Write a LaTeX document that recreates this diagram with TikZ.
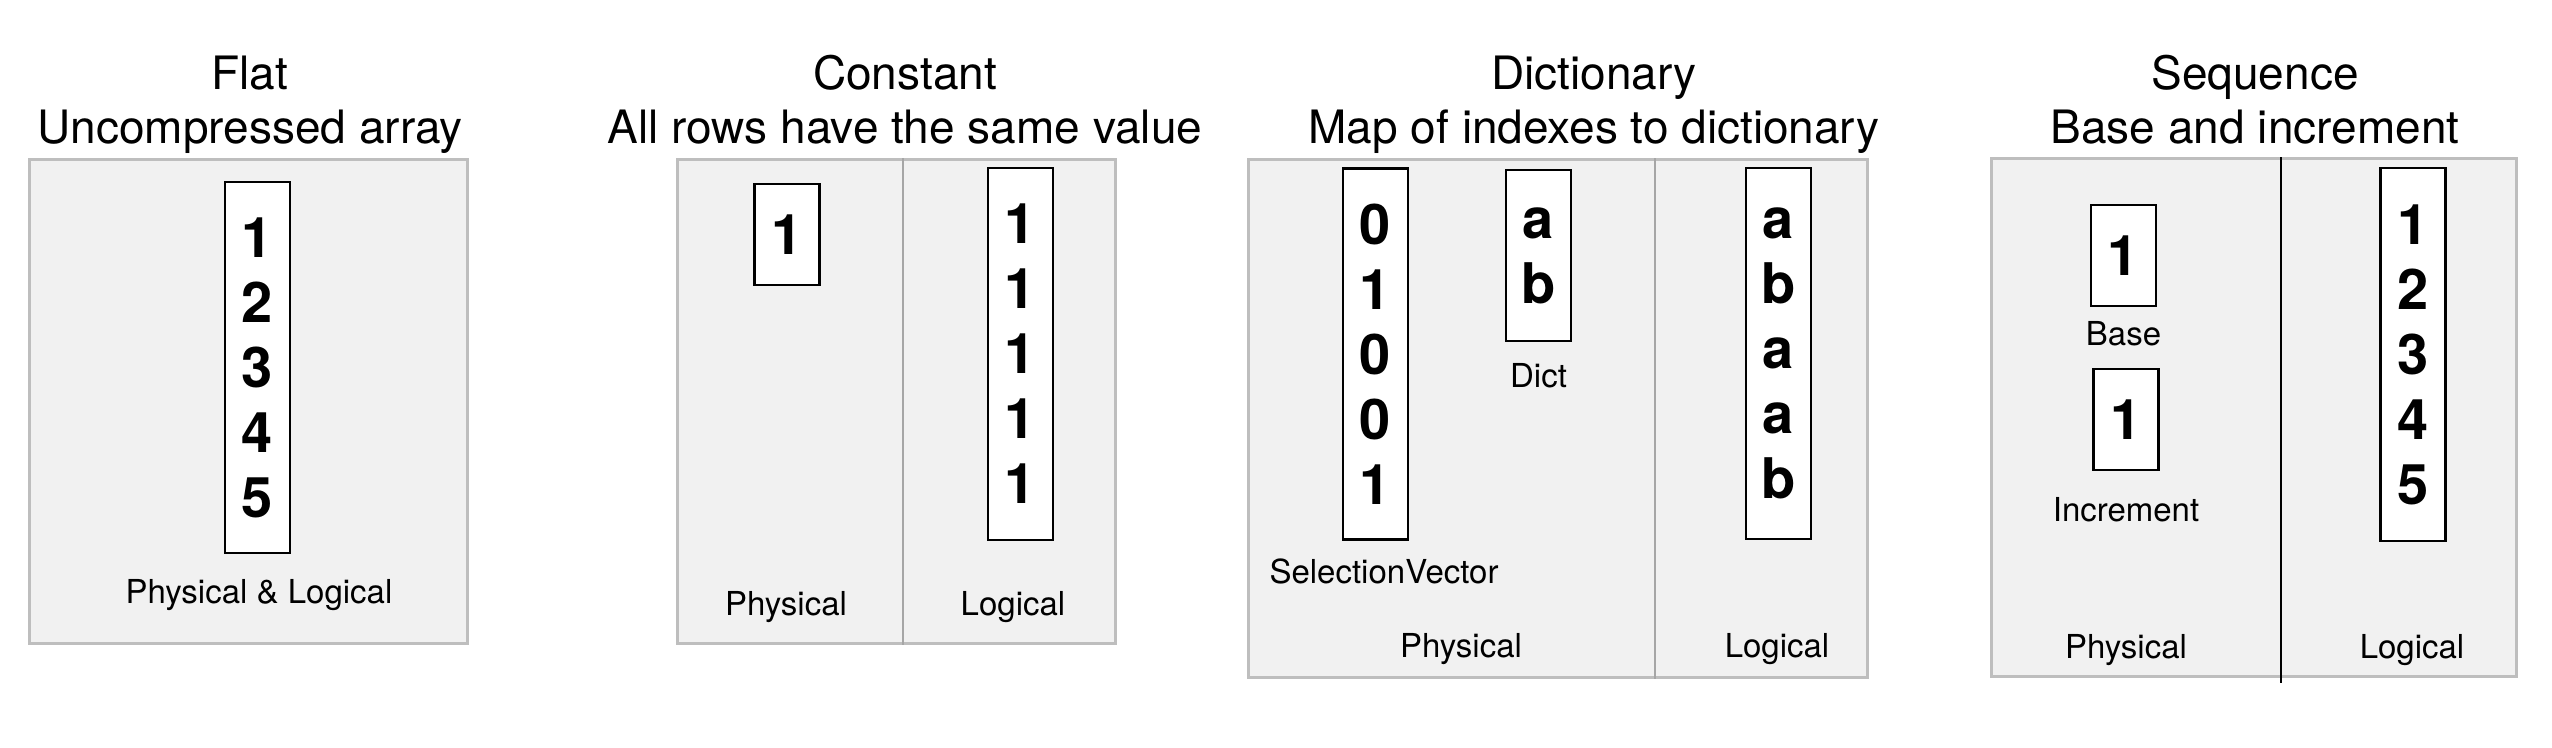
\documentclass[tikz,border=0pt]{standalone}
\usepackage{fontspec}
\setmainfont{TeX Gyre Heros}
\usepackage{xcolor}
\usetikzlibrary{positioning}

\definecolor{panelfill}{HTML}{F1F1F1}
\definecolor{panelline}{HTML}{BEBEBE}
\definecolor{splitline}{HTML}{A6A6A6}

\begin{document}
\begin{tikzpicture}[
        x=0.5pt, y=-0.5pt,
        panel/.style={draw=panelline, fill=panelfill, line width=1.5pt, inner sep=0pt},
        divider/.style={draw=splitline, line width=1.4pt},
        cell/.style={draw, fill=white, line width=1.3pt, inner sep=0pt,
          minimum width=32.5pt, align=center,
          font=\bfseries\fontsize{28}{32.5}\selectfont},
        tag/.style={inner sep=0pt, font=\fontsize{16.5}{19}\selectfont},
        heading/.style={inner sep=0pt, align=center,
          font=\fontsize{23}{27}\selectfont},
      ]

      \useasboundingbox (0,0) rectangle (2552,748);

      % Flat
      \node[panel, minimum width=219pt, minimum height=241.5pt] (flat) at (248,401.5) {};
      \node[heading, anchor=base] (flathead) at (250,144) {Flat\\Uncompressed array};
      \node[cell, minimum height=185.5pt] (flatarr) at (257.5,367.5) {1\\2\\3\\4\\5};
      \node[tag, anchor=base] (flatlbl) at (259,603) {Physical \& Logical};

      % Constant
      \node[panel, minimum width=219pt, minimum height=241.5pt] (const) at (896,401.5) {};
      \draw[divider] ([xshift=3.5pt]const.north) -- ([xshift=3.5pt]const.south);
      \node[heading, anchor=base] (consthead) at (905,144) {Constant\\All rows have the same value};
      \node[cell, minimum height=50.5pt] (constval) at (787,234.5) {1};
      \node[cell, minimum height=186pt] (constarr) at (1020.5,354) {1\\1\\1\\1\\1};
      \node[tag, anchor=base] (constphys) at (786,615) {Physical};
      \node[tag, anchor=base] (constlog) at (1013,615) {Logical};

      % Dictionary
      \node[panel, minimum width=309.5pt, minimum height=258.5pt] (dict) at (1557.5,418.5) {};
      \draw[divider] ([xshift=48.75pt]dict.north) -- ([xshift=48.75pt]dict.south);
      \node[heading, anchor=base] (dicthead) at (1594,144) {Dictionary\\Map of indexes to dictionary};
      \node[cell, minimum height=185.75pt] (selvec) at (1375.5,354) {0\\1\\0\\0\\1};
      \node[cell, minimum height=85.5pt] (dictval) at (1538.5,255.5) {a\\b};
      \node[tag, below=10.5pt of dictval] (dictlbl) {Dict};
      \node[tag, anchor=base] (selveclbl) at (1384,583) {SelectionVector};
      \node[cell, minimum height=185.5pt] (dictarr) at (1778.5,353.5) {a\\b\\a\\a\\b};
      \node[tag, anchor=base] (dictphys) at (1461,657) {Physical};
      \node[tag, anchor=base] (dictlog) at (1777,657) {Logical};

      % Sequence
      \node[panel, minimum width=262.5pt, minimum height=258.5pt] (seq) at (2253.5,417.5) {};
      \draw[line width=1.35pt] ([xshift=13.75pt]seq.north) -- ([xshift=13.75pt, yshift=-2.5pt]seq.south);
      \node[heading, anchor=base] (seqhead) at (2255,144) {Sequence\\Base and increment};
      \node[cell, minimum height=50.5pt] (base) at (2123.5,255.5) {1};
      \node[tag, below=7pt of base] (baselbl) {Base};
      \node[cell, minimum height=50.5pt] (incr) at (2126,419.5) {1};
      \node[tag, below=12.75pt of incr] (incrlbl) {Increment};
      \node[cell, minimum height=186.5pt] (seqarr) at (2413,354.5) {1\\2\\3\\4\\5};
      \node[tag, anchor=base] (seqphys) at (2126,658) {Physical};
      \node[tag, anchor=base] (seqlog) at (2412,658) {Logical};

    \end{tikzpicture}
\end{document}
